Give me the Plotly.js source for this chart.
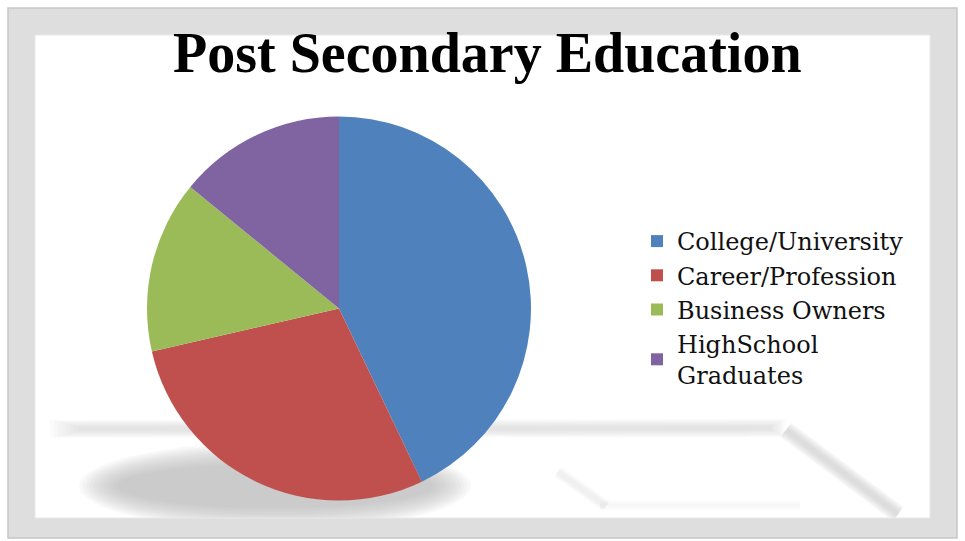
<!DOCTYPE html>
<html>
<head>
<meta charset="utf-8">
<script src="https://cdn.plot.ly/plotly-3.0.1.min.js"></script>
<style>
  html, body { margin: 0; padding: 0; background: #ffffff; }
  #chart { width: 965px; height: 541px; }
</style>
</head>
<body>
<div id="chart"></div>
<script>
// ---- data ----
const categories = ["College/University", "Career/Profession", "Business Owners", "HighSchool<br>Graduates"];
const shares = [42.9, 28.5, 14.5, 14.1];
const sliceColors = ["#4F81BD", "#C0504D", "#9BBB59", "#8064A2"];
const chartTitle = "Post Secondary Education";

// ---- page geometry helpers (pixels -> paper) ----
const W = 965, H = 541;
const px = x => x / W;
const py = y => 1 - y / H;

function rect(x0, y0, x1, y1, fill, opacity, line) {
  return {
    type: "rect", xref: "paper", yref: "paper", layer: "below",
    x0: px(x0), x1: px(x1), y0: py(y1), y1: py(y0),
    fillcolor: fill, opacity: opacity === undefined ? 1 : opacity,
    line: line || { width: 0 }
  };
}
function ellipse(cx, cy, rx, ry, fill, opacity) {
  return {
    type: "circle", xref: "paper", yref: "paper", layer: "below",
    x0: px(cx - rx), x1: px(cx + rx), y0: py(cy + ry), y1: py(cy - ry),
    fillcolor: fill, opacity: opacity, line: { width: 0 }
  };
}
function band(x0, y0, x1, y1, w, color, opacity) {
  return {
    type: "line", xref: "paper", yref: "paper", layer: "below",
    x0: px(x0), x1: px(x1), y0: py(y0), y1: py(y1),
    opacity: opacity, line: { color: color, width: w }
  };
}

const shapes = [];
// soft reflection shadows (stacked to imitate blur)
for (let i = 0; i < 12; i++) {
  shapes.push(ellipse(275, 486, 196 - i * 3.5, 44 - i * 2, "#b0b0b0", 0.075));
}
for (let i = 0; i < 8; i++) {
  shapes.push(band(50 + i * 4, 429, 785 - i * 2, 428, 18 - i * 2, "#c0c0c0", 0.055));
  shapes.push(band(786, 430, 898, 514, 18 - i * 2, "#bdbdbd", 0.075));
  shapes.push(band(558, 472, 606, 506, 12 - i * 1.2, "#d6d6d6", 0.03));
  shapes.push(band(600, 505, 800, 505, 10 - i * 1.2, "#e4e4e4", 0.02));
}
// picture frame
const frameFill = "#dedede";
shapes.push(rect(8, 8, 957, 35, frameFill));
shapes.push(rect(8, 518, 957, 538, frameFill));
shapes.push(rect(8, 8, 35, 538, frameFill));
shapes.push(rect(930, 8, 957, 538, frameFill));
shapes.push(rect(8, 8, 957, 538, "rgba(0,0,0,0)", 1, { color: "#c6c6c6", width: 1.5 }));
shapes.push(rect(35, 35, 930, 518, "rgba(0,0,0,0)", 1, { color: "#e8e8e8", width: 1 }));

const pieCx = 339, pieCy = 308.5, pieR = 192;

const data = [{
  type: "pie",
  labels: categories,
  values: shares,
  sort: false,
  direction: "clockwise",
  rotation: 0,
  textinfo: "none",
  hoverinfo: "label+percent",
  marker: { colors: sliceColors, line: { width: 0 } },
  domain: { x: [px(pieCx - pieR), px(pieCx + pieR)], y: [py(pieCy + pieR), py(pieCy - pieR)] }
}];

const layout = {
  width: W, height: H,
  margin: { l: 0, r: 0, t: 0, b: 0 },
  paper_bgcolor: "#ffffff",
  showlegend: true,
  title: {
    text: "<b>" + chartTitle + "</b>",
    font: { family: "Liberation Serif, DejaVu Serif, serif", size: 56, color: "#000000" },
    x: 0.505, xanchor: "center",
    y: py(52), yanchor: "middle"
  },
  legend: {
    x: px(637), xanchor: "left",
    y: py(219), yanchor: "top",
    font: { family: "DejaVu Serif, serif", size: 24, color: "#111111" },
    bgcolor: "rgba(0,0,0,0)",
    valign: "middle",
    itemclick: false
  },
  shapes: shapes
};

Plotly.newPlot("chart", data, layout, { displayModeBar: false, staticPlot: true });
</script>
</body>
</html>
